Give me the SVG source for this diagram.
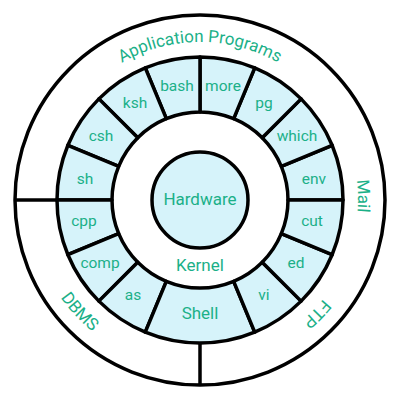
<svg xmlns="http://www.w3.org/2000/svg" width="400" height="400" viewBox="0 0 400 400">
<style>
.seg{fill:#d6f3fa;stroke:#000;stroke-width:3.5;stroke-linejoin:round}
.ln{stroke:#000;stroke-width:3.5;fill:none}
.t{font-family:Roboto,"Liberation Sans",sans-serif;fill:#1bb088;text-anchor:middle}
.s{font-size:15.5px}
.b{font-size:17px}
.o{font-size:17px}
</style>
<defs>
<path id="cw" d="M42,200 A158,158 0 1 1 358,200 A158,158 0 1 1 42,200"/>
<path id="ccw" d="M30,200 A170,170 0 1 0 370,200 A170,170 0 1 0 30,200"/>
</defs>
<rect width="400" height="400" fill="#fff"/>
<circle cx="200" cy="200" r="185" fill="#fff" stroke="#000" stroke-width="3.5"/>
<g id="connectors">
<line class="ln" x1="15" y1="200" x2="57" y2="200"/>
<line class="ln" x1="200" y1="343" x2="200" y2="385"/>
</g>
<g id="app-programs"><text class="t o"><textPath href="#cw" startOffset="25%">Application Programs</textPath></text></g>
<g id="mail"><text class="t o"><textPath href="#cw" startOffset="49.6%">Mail</textPath></text></g>
<g id="ftp"><text class="t o"><textPath href="#cw" startOffset="62.3%">FTP</textPath></text></g>
<g id="dbms"><text class="t o"><textPath href="#ccw" startOffset="11.9%">DBMS</textPath></text></g>

<g id="env"><path class="seg" d="M343,200 A143,143 0 0 0 332.12,145.28 L281.30,166.32 A88,88 0 0 1 288,200 Z"/><text class="t s" x="314" y="184">env</text></g>
<g id="which"><path class="seg" d="M332.12,145.28 A143,143 0 0 0 301.12,98.88 L262.23,137.77 A88,88 0 0 1 281.30,166.32 Z"/><text class="t s" x="297" y="141">which</text></g>
<g id="pg"><path class="seg" d="M301.12,98.88 A143,143 0 0 0 254.72,67.88 L233.68,118.70 A88,88 0 0 1 262.23,137.77 Z"/><text class="t s" x="264" y="108">pg</text></g>
<g id="more"><path class="seg" d="M254.72,67.88 A143,143 0 0 0 200,57 L200,112 A88,88 0 0 1 233.68,118.70 Z"/><text class="t s" x="223" y="91">more</text></g>
<g id="bash"><path class="seg" d="M200,57 A143,143 0 0 0 145.28,67.88 L166.32,118.70 A88,88 0 0 1 200,112 Z"/><text class="t s" x="177" y="91">bash</text></g>
<g id="ksh"><path class="seg" d="M145.28,67.88 A143,143 0 0 0 98.88,98.88 L137.77,137.77 A88,88 0 0 1 166.32,118.70 Z"/><text class="t s" x="135" y="108">ksh</text></g>
<g id="csh"><path class="seg" d="M98.88,98.88 A143,143 0 0 0 67.88,145.28 L118.70,166.32 A88,88 0 0 1 137.77,137.77 Z"/><text class="t s" x="101" y="141">csh</text></g>
<g id="sh"><path class="seg" d="M67.88,145.28 A143,143 0 0 0 57,200 L112,200 A88,88 0 0 1 118.70,166.32 Z"/><text class="t s" x="85" y="184">sh</text></g>
<g id="cpp"><path class="seg" d="M57,200 A143,143 0 0 0 67.88,254.72 L118.70,233.68 A88,88 0 0 1 112,200 Z"/><text class="t s" x="84" y="226">cpp</text></g>
<g id="comp"><path class="seg" d="M67.88,254.72 A143,143 0 0 0 98.88,301.12 L137.77,262.23 A88,88 0 0 1 118.70,233.68 Z"/><text class="t s" x="100" y="268">comp</text></g>
<g id="as"><path class="seg" d="M98.88,301.12 A143,143 0 0 0 145.28,332.12 L166.32,281.30 A88,88 0 0 1 137.77,262.23 Z"/><text class="t s" x="133" y="300">as</text></g>
<g id="shell"><path class="seg" d="M145.28,332.12 A143,143 0 0 0 254.72,332.12 L233.68,281.30 A88,88 0 0 1 166.32,281.30 Z"/><text class="t o" x="200" y="319">Shell</text></g>
<g id="vi"><path class="seg" d="M254.72,332.12 A143,143 0 0 0 301.12,301.12 L262.23,262.23 A88,88 0 0 1 233.68,281.30 Z"/><text class="t s" x="264" y="300">vi</text></g>
<g id="ed"><path class="seg" d="M301.12,301.12 A143,143 0 0 0 332.12,254.72 L281.30,233.68 A88,88 0 0 1 262.23,262.23 Z"/><text class="t s" x="296" y="268">ed</text></g>
<g id="cut"><path class="seg" d="M332.12,254.72 A143,143 0 0 0 343,200 L288,200 A88,88 0 0 1 281.30,233.68 Z"/><text class="t s" x="312" y="226">cut</text></g>

<g id="kernel"><text class="t b" x="200" y="271">Kernel</text></g>
<g id="hardware"><circle cx="200" cy="200" r="48" fill="#d6f3fa" stroke="#000" stroke-width="3.5"/><text class="t b" x="200" y="205">Hardware</text></g>
</svg>
